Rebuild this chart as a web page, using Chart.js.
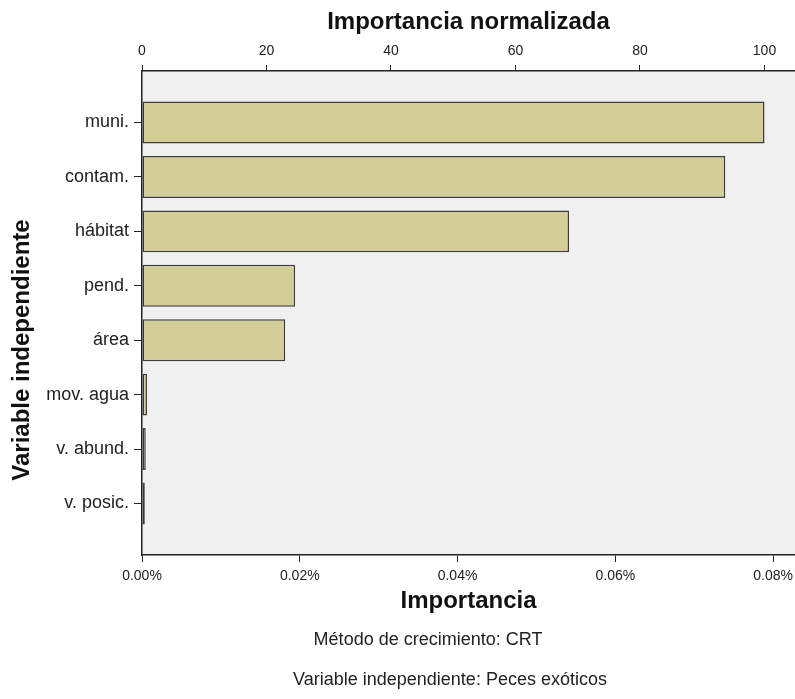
<!DOCTYPE html>
<html lang="es">
<head>
<meta charset="utf-8">
<title>Importancia normalizada</title>
<script src="https://cdn.jsdelivr.net/npm/chart.js@4.4.1/dist/chart.umd.min.js"></script>
<style>
  html, body { margin: 0; padding: 0; background: #fff; }
  #wrap { position: relative; width: 795px; height: 699px; }
</style>
</head>
<body>
<div id="wrap"><canvas id="impChart"></canvas></div>
<script>
// data
const variables = ['muni.', 'contam.', 'hábitat', 'pend.', 'área', 'mov. agua', 'v. abund.', 'v. posic.'];
const normImportance = [100, 93.7, 68.6, 24.6, 23.0, 0.8, 0.6, 0.45];
const normTicks = [0, 20, 40, 60, 80, 100];
const pctTicks = [0, 0.02, 0.04, 0.06, 0.08];
const notes = ['Método de crecimiento: CRT', 'Variable independiente: Peces exóticos'];

const FONT = "'Liberation Sans', Arial, sans-serif";

document.addEventListener('DOMContentLoaded', () => {
  const ctx = document.getElementById('impChart').getContext('2d');

  // grey plot panel + white page
  const panelBg = {
    id: 'panelBg',
    beforeDraw(chart) {
      const c = chart.ctx;
      const a = chart.chartArea;
      c.save();
      c.fillStyle = '#fff';
      c.fillRect(0, 0, chart.width, chart.height);
      c.fillStyle = '#F0F0F0';
      c.fillRect(a.left, a.top, a.right - a.left, a.bottom - a.top);
      c.restore();
    }
  };

  // rotated y title and footnotes, placed like the SPSS output
  const extraText = {
    id: 'extraText',
    afterDraw(chart) {
      const c = chart.ctx;
      c.save();
      c.fillStyle = '#111';
      c.textAlign = 'center';
      c.textBaseline = 'middle';
      c.font = 'bold 24px ' + FONT;
      c.translate(22, 350);
      c.rotate(-Math.PI / 2);
      c.fillText('Variable independiente', 0, 0);
      c.restore();

      c.save();
      c.fillStyle = '#222';
      c.textAlign = 'center';
      c.textBaseline = 'middle';
      c.font = '18px ' + FONT;
      c.fillText(notes[0], 428, 640);
      c.fillText(notes[1], 450, 680);
      c.restore();
    }
  };

  // no extra room for overhanging tick labels
  const noPad = s => { s.paddingLeft = 0; s.paddingRight = 0; s.paddingTop = 0; s.paddingBottom = 0; };

  const data = normImportance.map((v, i) => ({ x: v, y: i }));

  new Chart(ctx, {
    type: 'bar',
    data: {
      datasets: [{
        label: 'Importancia normalizada',
        data,
        xAxisID: 'xTop',
        yAxisID: 'y',
        backgroundColor: '#D3CE98',
        borderColor: '#3C3C3C',
        borderWidth: 1.5,
        borderSkipped: false,
        barPercentage: 0.77,
        categoryPercentage: 1
      }]
    },
    options: {
      indexAxis: 'y',
      responsive: true,
      maintainAspectRatio: false,
      animation: false,
      layout: { padding: 0 },
      plugins: {
        legend: { display: false },
        tooltip: { enabled: false }
      },
      scales: {
        xTop: {
          type: 'linear',
          position: 'top',
          min: 0,
          max: 104.9,
          afterBuildTicks: s => { s.ticks = normTicks.map(v => ({ value: v })); },
          afterFit: s => { s.height = 71; noPad(s); },
          ticks: {
            color: '#222',
            font: { family: FONT, size: 14 },
            padding: 5,
            maxRotation: 0
          },
          grid: { drawOnChartArea: false, drawTicks: true, tickLength: 6, color: '#222' },
          border: { display: true, color: '#222', width: 1.5 },
          title: {
            display: true,
            text: 'Importancia normalizada',
            color: '#111',
            font: { family: FONT, size: 24, weight: 'bold' },
            padding: { top: 8, bottom: 0 }
          }
        },
        x: {
          type: 'linear',
          position: 'bottom',
          min: 0,
          max: 0.08278,
          afterBuildTicks: s => { s.ticks = pctTicks.map(v => ({ value: v })); },
          afterFit: s => { s.height = 144; noPad(s); },
          ticks: {
            color: '#222',
            font: { family: FONT, size: 14 },
            padding: 6,
            maxRotation: 0,
            callback: v => v.toFixed(2) + '%'
          },
          grid: { drawOnChartArea: false, drawTicks: true, tickLength: 7, color: '#222' },
          border: { display: true, color: '#222', width: 1.5 },
          title: {
            display: true,
            text: 'Importancia',
            color: '#111',
            font: { family: FONT, size: 24, weight: 'bold' },
            padding: { top: 0, bottom: 83 }
          }
        },
        y: {
          type: 'linear',
          position: 'left',
          reverse: true,
          offset: false,
          min: -0.946,
          max: 7.946,
          afterBuildTicks: s => { s.ticks = variables.map((_, i) => ({ value: i })); },
          afterFit: s => { s.width = 142; noPad(s); },
          ticks: {
            color: '#222',
            font: { family: FONT, size: 18 },
            padding: 5,
            autoSkip: false,
            callback: v => variables[v] ?? ''
          },
          grid: { offset: false, drawOnChartArea: false, drawTicks: true, tickLength: 8, color: '#222' },
          border: { display: true, color: '#222', width: 1.5 }
        }
      }
    },
    plugins: [panelBg, extraText]
  });
});
</script>
</body>
</html>
